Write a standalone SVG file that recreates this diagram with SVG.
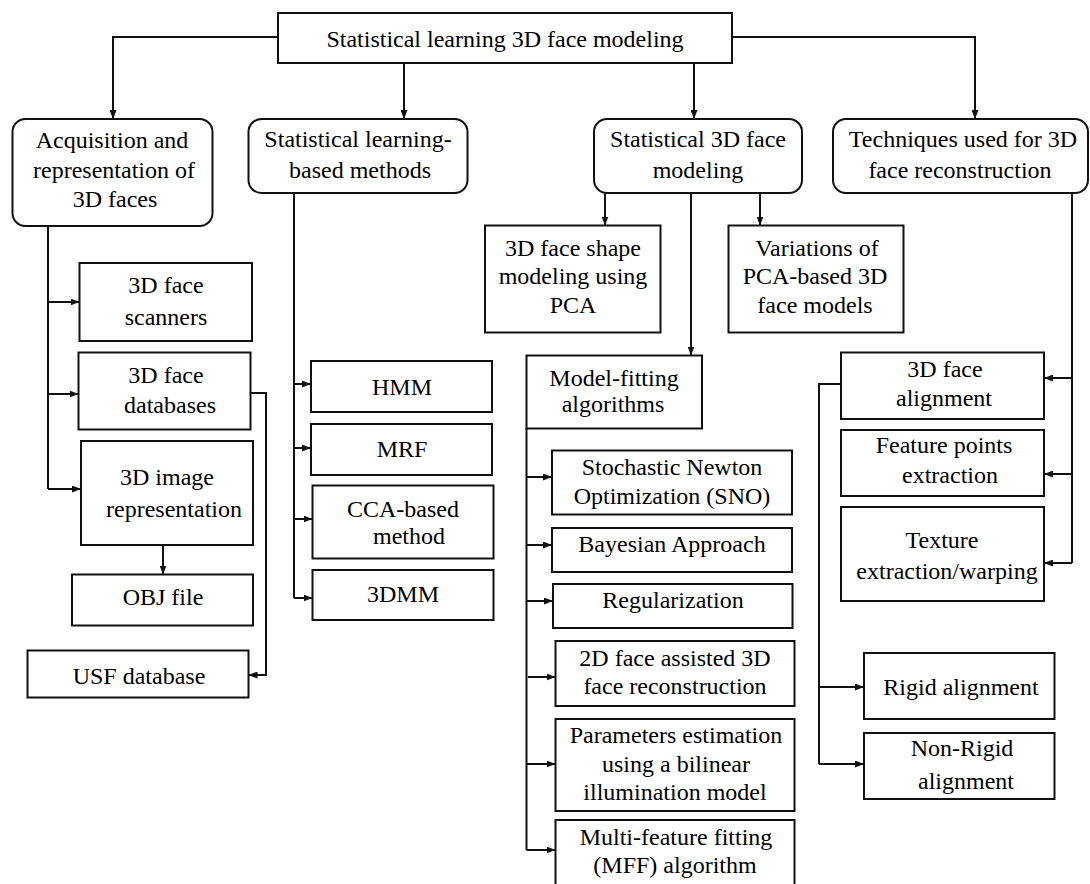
<svg xmlns="http://www.w3.org/2000/svg" width="1090" height="884" viewBox="0 0 1090 884">
<defs>
<style>
.box{fill:#fff;stroke:#111;stroke-width:2}
.conn{fill:none;stroke:#111;stroke-width:2}
text{font-family:"Liberation Serif","Times New Roman",serif;font-size:24px;fill:#000;text-anchor:middle}
</style>
<marker id="arr" viewBox="0 0 10 10" refX="10" refY="5" markerUnits="userSpaceOnUse" markerWidth="9" markerHeight="7" orient="auto" preserveAspectRatio="none">
<path d="M0,0 L10,5 L0,10 z" fill="#111"/>
</marker>
</defs>
<rect width="1090" height="884" fill="#fff"/>

<g id="connectors" class="conn" marker-end="url(#arr)">
<path d="M278,37 H113 V119"/>
<path d="M404,63 V119"/>
<path d="M694,63 V119"/>
<path d="M732,37 H975 V119"/>
<path d="M48,226 V489" marker-end="none"/>
<path d="M48,302 H79.5"/>
<path d="M48,394 H78.5"/>
<path d="M48,489 H81"/>
<path d="M163,545 V574.5"/>
<path d="M251,393 H266 V675 H248.5"/>
<path d="M294,193 V598" marker-end="none"/>
<path d="M294,384 H311"/>
<path d="M294,448 H311"/>
<path d="M294,519 H312.5"/>
<path d="M294,598 H312.5"/>
<path d="M605,193 V225.5"/>
<path d="M760,193 V225.5"/>
<path d="M691,193 V355.5"/>
<path d="M526.5,428 V850" marker-end="none"/>
<path d="M526.5,477 H552"/>
<path d="M526.5,545 H552"/>
<path d="M526.5,601 H553"/>
<path d="M528,677 H555.5"/>
<path d="M526.5,764 H555.5"/>
<path d="M526.5,850 H555.5"/>
<path d="M1072,193 V563" marker-end="none"/>
<path d="M1072,378 H1044"/>
<path d="M1072,474 H1044"/>
<path d="M1072,563 H1044"/>
<path d="M841,384 H819 V764" marker-end="none"/>
<path d="M819,687 H864"/>
<path d="M819,764 H864"/>
</g>

<g id="root"><rect class="box" x="278" y="13" width="454" height="50"/><text x="505" y="46.5">Statistical learning 3D face modeling</text></g>

<g id="acq"><rect class="box" x="12.5" y="119" width="200" height="107" rx="13"/><text x="112" y="148.3">Acquisition and</text><text x="114" y="177.7">representation of</text><text x="115" y="207.3">3D faces</text></g>
<g id="slm"><rect class="box" x="248.5" y="119" width="219" height="74" rx="13"/><text x="358" y="146.7">Statistical learning-</text><text x="360" y="177.7">based methods</text></g>
<g id="s3d"><rect class="box" x="594" y="119" width="208" height="74" rx="13"/><text x="698" y="146.7">Statistical 3D face</text><text x="698" y="177.7">modeling</text></g>
<g id="tech"><rect class="box" x="833" y="119" width="255" height="74" rx="13"/><text x="963" y="146.7">Techniques used for 3D</text><text x="960" y="178">face reconstruction</text></g>

<g id="scanners"><rect class="box" x="79.5" y="263" width="172.5" height="78"/><text x="166" y="293.3">3D face</text><text x="166" y="325">scanners</text></g>
<g id="databases"><rect class="box" x="78.5" y="352.5" width="172" height="77"/><text x="166" y="382.7">3D face</text><text x="170" y="412.7">databases</text></g>
<g id="imagerep"><rect class="box" x="81" y="441" width="172" height="104"/><text x="167" y="485.3">3D image</text><text x="174" y="517">representation</text></g>
<g id="obj"><rect class="box" x="72" y="574.5" width="181" height="51"/><text x="163" y="605.3">OBJ file</text></g>
<g id="usf"><rect class="box" x="27.5" y="650.5" width="221" height="47"/><text x="139" y="684.3">USF database</text></g>

<g id="hmm"><rect class="box" x="311" y="361" width="181" height="51"/><text x="402" y="395">HMM</text></g>
<g id="mrf"><rect class="box" x="311" y="424" width="181" height="51"/><text x="402" y="456.7">MRF</text></g>
<g id="cca"><rect class="box" x="312.5" y="485.5" width="181" height="73"/><text x="403" y="516.5">CCA-based</text><text x="409" y="543.5">method</text></g>
<g id="tdmm"><rect class="box" x="312.5" y="570" width="181" height="50"/><text x="403" y="601.5">3DMM</text></g>

<g id="pca"><rect class="box" x="485" y="225.5" width="175.5" height="107"/><text x="573" y="256">3D face shape</text><text x="573" y="284">modeling using</text><text x="573" y="312.7">PCA</text></g>
<g id="variations"><rect class="box" x="728.5" y="225.5" width="175" height="107"/><text x="817" y="256">Variations of</text><text x="815" y="284">PCA-based 3D</text><text x="815" y="312.7">face models</text></g>
<g id="modelfit"><rect class="box" x="526.5" y="355.5" width="175.5" height="73"/><text x="614" y="385.7">Model-fitting</text><text x="613" y="412.3">algorithms</text></g>

<g id="sno"><rect class="box" x="552" y="450.5" width="240" height="64"/><text x="672" y="475.3">Stochastic Newton</text><text x="672" y="503.7">Optimization (SNO)</text></g>
<g id="bayes"><rect class="box" x="552" y="528" width="240" height="44"/><text x="672" y="552">Bayesian Approach</text></g>
<g id="reg"><rect class="box" x="553" y="584" width="239.5" height="44"/><text x="673" y="607.7">Regularization</text></g>
<g id="twod"><rect class="box" x="555.5" y="641" width="239" height="65"/><text x="675" y="666">2D face assisted 3D</text><text x="675" y="693.7">face reconstruction</text></g>
<g id="params"><rect class="box" x="555.5" y="719" width="239" height="92"/><text x="676" y="743">Parameters estimation</text><text x="676" y="772">using a bilinear</text><text x="675" y="799.7">illumination model</text></g>
<g id="mff"><rect class="box" x="555.5" y="820" width="239" height="80"/><text x="676" y="845.3">Multi-feature fitting</text><text x="675" y="873">(MFF) algorithm</text></g>

<g id="align"><rect class="box" x="841" y="352.5" width="203" height="66.5"/><text x="945" y="376.7">3D face</text><text x="944" y="406">alignment</text></g>
<g id="feature"><rect class="box" x="841" y="430" width="203" height="66"/><text x="944" y="453.3">Feature points</text><text x="950" y="482.7">extraction</text></g>
<g id="texture"><rect class="box" x="841" y="507" width="203" height="94"/><text x="942" y="548">Texture</text><text x="947" y="578.7">extraction/warping</text></g>
<g id="rigid"><rect class="box" x="864" y="653" width="190.5" height="66"/><text x="961" y="695.3">Rigid alignment</text></g>
<g id="nonrigid"><rect class="box" x="864" y="733" width="190.5" height="66"/><text x="962" y="756.3">Non-Rigid</text><text x="966" y="789.3">alignment</text></g>
</svg>
